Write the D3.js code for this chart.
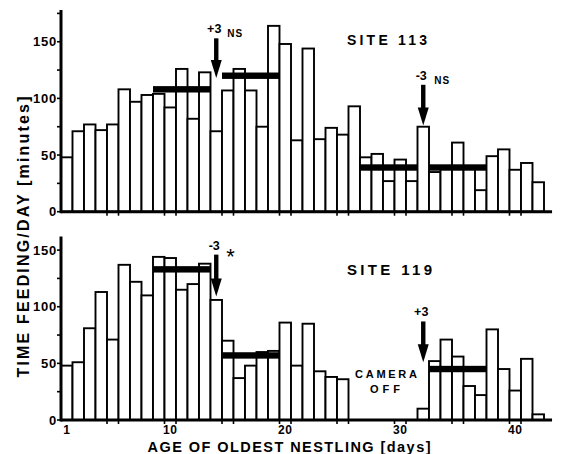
<!DOCTYPE html>
<html>
<head>
<meta charset="utf-8">
<script src="https://cdn.jsdelivr.net/npm/d3@7/dist/d3.min.js"></script>
<style>
body { margin: 0; background: #fff; }
text { font-family: "Liberation Sans", Arial, sans-serif; font-weight: bold; fill: #000; }
</style>
</head>
<body>
<script>
// daily feeding time (minutes) by age of oldest nestling, day 1..42
var days = d3.range(1, 43);
var site113 = [48, 71, 77, 72, 77, 108, 97, 103, 104, 92, 126, 82, 123, 71, 107, 126, 107, 75, 164, 148, 63,
               144, 64, 74, 68, 93, 48, 51, 27, 46, 27, 75, 35, 40, 61, 40, 19, 49, 55, 37, 43, 26];
var site119 = [48, 51, 81, 113, 71, 137, 122, 110, 144, 143, 115, 120, 138, 106, 70, 37, 48, 60, 61, 86, 48,
               85, 43, 38, 36, 0, 0, 0, 0, 0, 0, 10, 52, 71, 56, 30, 22, 80, 45, 26, 54, 5];

// mean bars over 5-day blocks
var means113 = [{from: 9, to: 13, value: 108}, {from: 15, to: 19, value: 120},
                {from: 27, to: 31, value: 39}, {from: 33, to: 37, value: 39}];
var means119 = [{from: 9, to: 13, value: 133}, {from: 15, to: 19, value: 57},
                {from: 33, to: 37, value: 45}];

// brood manipulation arrows
var arrows113 = [{day: 14, top: 153, tip: 118, label: '+3', note: 'NS'},
                 {day: 32, top: 112, tip: 76, label: '-3', note: 'NS'}];
var arrows119 = [{day: 14, top: 146, tip: 109, label: '-3', note: '*'},
                 {day: 32, top: 87, tip: 51, label: '+3', note: ''}];

var yTicks113 = [0, 25, 50, 75, 100, 125, 150, 175];
var yTicks119 = [0, 25, 50, 75, 100, 125, 150];
var yLabels = [0, 50, 100, 150];
var xLabels = [1, 10, 20, 30, 40];
var xTickDays = [5, 10, 15, 20, 25, 30, 35, 40];

var width = 563, height = 454;

var svg = d3.select('body').append('svg')
    .attr('width', width)
    .attr('height', height);

var x = d3.scaleLinear().domain([0.5, 40.5]).range([61, 521]);
var yTop = d3.scaleLinear().domain([0, 178]).range([211.7, 10]);
var yBot = d3.scaleLinear().domain([0, 162]).range([420, 236.5]);

function panel(values, means, arrows, y, ticks) {
  var g = svg.append('g');

  // bars
  g.selectAll('rect.bar')
    .data(days.filter(function(d, i) { return values[i] > 0; }))
    .enter().append('rect')
    .attr('class', 'bar')
    .attr('x', function(d) { return x(d - 0.5); })
    .attr('width', x(1.5) - x(0.5))
    .attr('y', function(d) { return y(values[d - 1]); })
    .attr('height', function(d) { return y(0) - y(values[d - 1]); })
    .style('fill', '#fff')
    .style('stroke', '#000')
    .style('stroke-width', 1.9);

  // mean lines
  g.selectAll('rect.mean')
    .data(means)
    .enter().append('rect')
    .attr('class', 'mean')
    .attr('x', function(d) { return x(d.from - 0.5); })
    .attr('width', function(d) { return x(d.to + 0.5) - x(d.from - 0.5); })
    .attr('y', function(d) { return y(d.value) - 3.2; })
    .attr('height', 6.4)
    .style('fill', '#000');

  // y axis
  g.append('line')
    .attr('x1', x(0.5)).attr('x2', x(0.5))
    .attr('y1', y(0) + 1.5).attr('y2', y(y.domain()[1]))
    .style('stroke', '#000').style('stroke-width', 3);
  g.selectAll('line.ytick')
    .data(ticks)
    .enter().append('line')
    .attr('class', 'ytick')
    .attr('x1', x(0.5) - 4).attr('x2', x(0.5))
    .attr('y1', function(d) { return y(d); })
    .attr('y2', function(d) { return y(d); })
    .style('stroke', '#000').style('stroke-width', 1.6);
  g.selectAll('text.ylab')
    .data(yLabels)
    .enter().append('text')
    .attr('class', 'ylab')
    .attr('x', x(0.5) - 4)
    .attr('y', function(d) { return y(d) + 4.5; })
    .attr('text-anchor', 'end')
    .style('font-size', '13px')
    .style('letter-spacing', '0.8px')
    .text(function(d) { return d; });

  // x axis
  g.append('line')
    .attr('x1', x(0.5)).attr('x2', x(43.2))
    .attr('y1', y(0)).attr('y2', y(0))
    .style('stroke', '#000').style('stroke-width', 3);
  var edges = [];
  xTickDays.forEach(function(d) { edges.push(d - 0.5, d + 0.5); });
  g.selectAll('line.xtick')
    .data(edges)
    .enter().append('line')
    .attr('class', 'xtick')
    .attr('x1', function(d) { return x(d); })
    .attr('x2', function(d) { return x(d); })
    .attr('y1', y(0)).attr('y2', y(0) + 4)
    .style('stroke', '#000').style('stroke-width', 1.6);

  // arrows
  arrows.forEach(function(a) {
    var ax = x(a.day), t = y(a.top), p = y(a.tip);
    g.append('rect')
      .attr('x', ax - 2.2).attr('width', 4.4)
      .attr('y', t).attr('height', p - t - 16)
      .style('fill', '#000');
    g.append('path')
      .attr('d', 'M' + (ax - 5.5) + ',' + (p - 18) + 'L' + (ax + 5.5) + ',' + (p - 18) + 'L' + ax + ',' + p + 'Z')
      .style('fill', '#000');
    g.append('text')
      .attr('x', ax - 2)
      .attr('y', t - 5)
      .attr('text-anchor', 'middle')
      .style('font-size', '12.5px')
      .text(a.label);
    if (a.note == 'NS') {
      g.append('text')
        .attr('x', ax + 11)
        .attr('y', t - 1)
        .style('font-size', '10px')
        .style('letter-spacing', '1px')
        .text(a.note);
    } else if (a.note == '*') {
      g.append('text')
        .attr('x', ax + 10)
        .attr('y', t + 9)
        .style('font-size', '22px')
        .style('font-weight', 'normal')
        .text(a.note);
    }
  });
  return g;
}

panel(site113, means113, arrows113, yTop, yTicks113);
var bot = panel(site119, means119, arrows119, yBot, yTicks119);

// x tick labels (bottom panel only)
bot.selectAll('text.xlab')
  .data(xLabels)
  .enter().append('text')
  .attr('class', 'xlab')
  .attr('x', function(d) { return x(d); })
  .attr('y', 433.5)
  .attr('text-anchor', 'middle')
  .style('font-size', '12px')
  .style('letter-spacing', '0.5px')
  .text(function(d) { return d; });

// site labels
svg.append('text').attr('x', 347).attr('y', 45)
  .attr('textLength', 80).attr('lengthAdjust', 'spacing')
  .style('font-size', '14px').text('SITE 113');
svg.append('text').attr('x', 347).attr('y', 275)
  .attr('textLength', 85).attr('lengthAdjust', 'spacing')
  .style('font-size', '15px').text('SITE 119');
svg.append('text').attr('x', 355).attr('y', 378)
  .attr('textLength', 62).attr('lengthAdjust', 'spacing')
  .style('font-size', '11px').text('CAMERA');
svg.append('text').attr('x', 370).attr('y', 393)
  .attr('textLength', 30).attr('lengthAdjust', 'spacing')
  .style('font-size', '11px').text('OFF');

// axis titles
svg.append('text')
  .attr('x', 289).attr('y', 451.5)
  .attr('text-anchor', 'middle')
  .attr('textLength', 283).attr('lengthAdjust', 'spacing')
  .style('font-size', '14.5px')
  .text('AGE OF OLDEST  NESTLING [days]');
svg.append('text')
  .attr('transform', 'translate(29,237) rotate(-90)')
  .attr('text-anchor', 'middle')
  .attr('textLength', 281).attr('lengthAdjust', 'spacing')
  .style('font-size', '16px')
  .text('TIME FEEDING/DAY [minutes]');
</script>
</body>
</html>
